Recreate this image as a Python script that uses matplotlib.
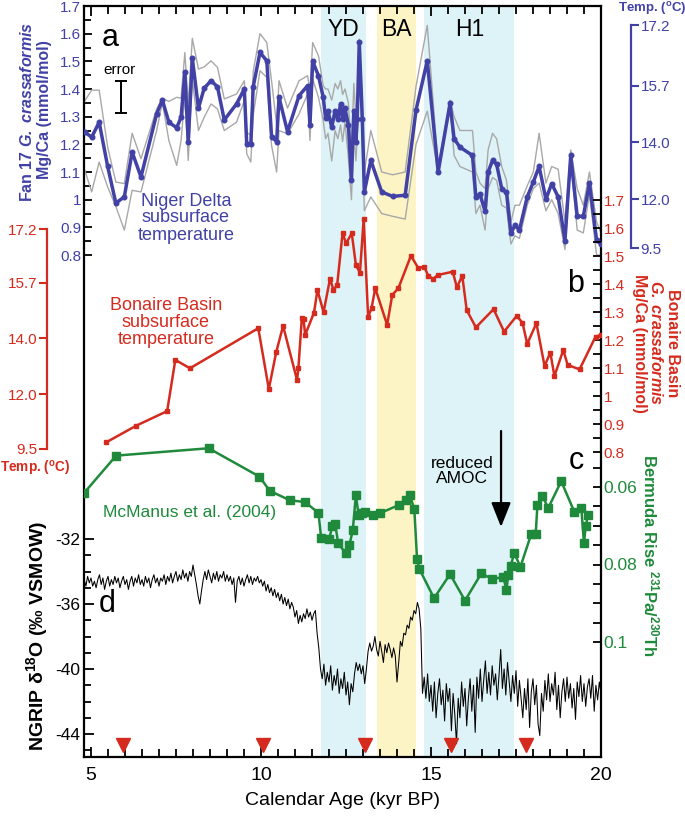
import numpy as np
import matplotlib
matplotlib.use("Agg")
import matplotlib.pyplot as plt
import matplotlib.transforms as mtransforms
from matplotlib.ticker import FixedLocator

plt.rcParams['font.family'] = ['Liberation Sans', 'DejaVu Sans']
plt.rcParams['mathtext.fontset'] = 'custom'
plt.rcParams['mathtext.rm'] = 'Liberation Sans'
plt.rcParams['mathtext.it'] = 'Liberation Sans:italic'
plt.rcParams['mathtext.bf'] = 'Liberation Sans:bold'
plt.rcParams['mathtext.bfit'] = 'Liberation Sans:italic:bold'
plt.rcParams['axes.unicode_minus'] = False

BLUE = '#4141a6'
RED = '#d52b1e'
GREEN = '#1f8a3b'
GREY = '#a8a8a8'
CYAN = '#ddf3f7'
YELLOW = '#fcf4c5'

# ---------------- data ----------------
periods = ['YD', 'BA', 'H1']
period_start = [11.75, 13.40, 14.80]
period_end = [13.10, 14.55, 17.45]
period_color = [CYAN, YELLOW, CYAN]

niger_age = [4.82, 5.02, 5.24, 5.49, 5.73, 5.98, 6.21, 6.47, 6.93, 7.10, 7.29, 7.52, 7.65, 7.76,
             7.86, 7.98, 8.16, 8.33, 8.53, 8.72, 8.92, 9.28, 9.51, 9.58, 9.70, 9.77, 9.97, 10.17,
             10.31, 10.46, 10.53, 10.78, 11.12, 11.37, 11.44, 11.52, 11.69, 11.83, 11.90, 11.97,
             12.08, 12.18, 12.26, 12.34, 12.40, 12.47, 12.57, 12.66, 12.73, 12.79, 12.83, 12.89,
             12.98, 13.04, 13.23, 13.55, 13.87, 14.24, 14.56, 14.89, 15.21, 15.56, 15.68, 15.85,
             16.22, 16.32, 16.44, 16.59, 16.68, 16.81, 16.93, 17.08, 17.22, 17.35, 17.47, 17.60,
             17.83, 18.01, 18.18, 18.38, 18.55, 18.74, 18.94, 19.11, 19.30, 19.48, 19.66, 19.87, 20.0]
niger_mgca = [1.244, 1.226, 1.280, 1.120, 0.988, 1.010, 1.172, 1.082, 1.310, 1.360, 1.280, 1.260,
              1.298, 1.460, 1.208, 1.511, 1.331, 1.403, 1.430, 1.408, 1.288, 1.346, 1.400, 1.200,
              1.200, 1.408, 1.532, 1.502, 1.228, 1.210, 1.370, 1.246, 1.376, 1.412, 1.270, 1.500,
              1.448, 1.370, 1.295, 1.320, 1.262, 1.322, 1.290, 1.346, 1.290, 1.330, 1.270, 1.070,
              1.322, 1.210, 1.290, 1.571, 1.290, 1.028, 1.142, 1.028, 1.012, 1.016, 1.324, 1.502,
              1.100, 1.348, 1.220, 1.190, 1.160, 1.010, 1.020, 0.958, 1.100, 1.142, 1.128, 1.040,
              1.026, 0.878, 0.908, 0.890, 1.010, 1.064, 1.120, 1.002, 1.058, 1.010, 0.852, 1.160,
              0.940, 0.940, 1.060, 0.854, 0.840]
niger_upper = [1.358, 1.396, 1.396, 1.190, 1.064, 1.058, 1.240, 1.148, 1.328, 1.367, 1.355, 1.370,
               1.367, 1.532, 1.346, 1.583, 1.472, 1.480, 1.502, 1.478, 1.364, 1.382, 1.430, 1.244,
               1.232, 1.463, 1.600, 1.568, 1.430, 1.270, 1.430, 1.331, 1.430, 1.448, 1.394, 1.568,
               1.520, 1.412, 1.40, 1.40, 1.36, 1.42, 1.40, 1.43, 1.38, 1.40, 1.35, 1.16, 1.42, 1.30,
               1.38, 1.58, 1.35, 1.10, 1.25, 1.10, 1.09, 1.10, 1.41, 1.63, 1.12, 1.36, 1.30, 1.25,
               1.25, 1.10, 1.06, 1.04, 1.18, 1.24, 1.22, 1.12, 1.07, 0.92, 0.98, 0.98, 1.05, 1.10,
               1.24, 1.06, 1.12, 1.11, 0.92, 1.18, 1.04, 0.98, 1.10, 0.92, 0.88]
niger_lower = [1.106, 1.028, 1.136, 1.046, 0.976, 0.890, 1.034, 1.028, 1.250, 1.352, 1.214, 1.124,
               1.214, 1.376, 1.142, 1.436, 1.250, 1.298, 1.346, 1.328, 1.250, 1.280, 1.358, 1.166,
               1.136, 1.304, 1.466, 1.442, 1.196, 1.100, 1.250, 1.238, 1.310, 1.382, 1.214, 1.436,
               1.370, 1.286, 1.22, 1.24, 1.14, 1.25, 1.22, 1.27, 1.21, 1.28, 1.15, 1.00, 1.25, 1.14,
               1.22, 1.52, 1.20, 0.96, 1.01, 0.95, 0.94, 0.93, 1.20, 1.32, 1.10, 1.34, 1.16, 1.12,
               1.10, 0.95, 0.98, 0.89, 1.04, 1.08, 1.07, 0.98, 0.97, 0.84, 0.87, 0.86, 0.98, 1.04,
               1.06, 0.96, 1.00, 0.95, 0.82, 1.14, 0.89, 0.88, 1.02, 0.80, 0.80]

bonaire_age = [5.44, 6.33, 7.24, 7.48, 7.91, 9.92, 10.23, 10.45, 10.65, 11.06, 11.10, 11.20, 11.25,
               11.30, 11.56, 11.66, 11.84, 12.03, 12.13, 12.24, 12.40, 12.50, 12.67, 12.79, 12.91,
               13.02, 13.15, 13.25, 13.36, 13.71, 13.86, 14.04, 14.41, 14.63, 14.80, 14.92, 15.06,
               15.20, 15.64, 15.76, 15.92, 16.05, 16.32, 16.84, 17.15, 17.52, 17.69, 17.83, 18.10,
               18.34, 18.51, 18.63, 18.89, 19.02, 19.37, 19.84, 20.00]
bonaire_mgca = [0.834, 0.894, 0.946, 1.129, 1.099, 1.242, 1.025, 1.158, 1.250, 1.057, 1.099, 1.277,
                1.275, 1.218, 1.298, 1.379, 1.299, 1.419, 1.379, 1.396, 1.583, 1.545, 1.581, 1.468,
                1.440, 1.632, 1.283, 1.313, 1.385, 1.254, 1.361, 1.385, 1.501, 1.456, 1.462, 1.429,
                1.418, 1.432, 1.444, 1.388, 1.429, 1.307, 1.245, 1.310, 1.230, 1.286, 1.262, 1.186,
                1.260, 1.107, 1.155, 1.071, 1.164, 1.111, 1.095, 1.212, 1.218]

bermuda_age = [4.80, 5.74, 8.46, 9.95, 10.26, 10.84, 11.30, 11.69, 11.77, 12.00, 12.10, 12.18, 12.27,
               12.49, 12.60, 12.70, 12.79, 12.87, 12.97, 13.05, 13.30, 13.49, 14.07, 14.25, 14.38,
               14.51, 14.59, 14.66, 15.09, 15.56, 16.00, 16.48, 16.79, 17.13, 17.22, 17.27, 17.34,
               17.45, 17.63, 17.95, 18.08, 18.13, 18.27, 18.45, 18.83, 19.22, 19.42, 19.50, 19.55, 19.62]
bermuda_pa_th = [0.0615, 0.0519, 0.0500, 0.0573, 0.0610, 0.0634, 0.0639, 0.0667, 0.0732, 0.0735,
                 0.0701, 0.0695, 0.0745, 0.0771, 0.0750, 0.0711, 0.0621, 0.0672, 0.0667, 0.0665,
                 0.0672, 0.0668, 0.0646, 0.0634, 0.0621, 0.0658, 0.0787, 0.0812, 0.0887, 0.0825,
                 0.0893, 0.0823, 0.0837, 0.0833, 0.0866, 0.0827, 0.0804, 0.0771, 0.0806, 0.0721,
                 0.0721, 0.0646, 0.0623, 0.0654, 0.0585, 0.0665, 0.0654, 0.0745, 0.0700, 0.0672]

# NGRIP d18O read at 0.05 kyr steps starting at 4.80 kyr
ngrip_start, ngrip_step = 4.80, 0.05
ngrip_d18o = [
    -34.5, -34.9, -34.3, -34.7,
    -34.4, -34.9, -34.6, -35.0, -34.5, -34.2, -34.8, -34.4, -35.1, -34.6, -34.3, -34.9, -34.5, -34.8, -34.3, -34.7, -34.4, -35.0, -34.6, -34.3,
    -34.8, -34.5, -35.1, -34.6, -34.3, -34.9, -34.4, -34.7, -34.2, -34.8, -34.5, -34.9, -34.3, -34.7, -34.4, -35.0, -34.5, -34.2, -34.7, -34.4,
    -34.9, -34.4, -34.6, -34.2, -34.8, -34.3, -34.6, -34.1, -34.7, -34.3, -34.0, -34.6, -34.2, -34.5, -33.9, -34.4, -34.1, -34.6, -34.0, -34.3,
    -33.6, -34.2, -34.8, -35.5, -36.0, -35.2, -34.5, -34.0, -34.5, -33.9, -34.3, -34.7, -34.1, -34.5, -34.0, -34.6, -34.2, -34.4, -34.0, -34.6,
    -34.2, -34.6, -34.3, -34.8, -34.4, -35.9, -34.6, -34.3, -34.8, -34.4, -34.9, -34.5, -34.2, -34.7, -34.3, -34.8, -34.4, -34.6, -34.3, -34.7,
    -34.5, -34.9, -34.6, -35.2, -34.8, -35.3, -35.0, -35.5, -35.1, -35.6, -35.3, -35.8, -35.4, -36.0, -35.6, -36.1, -35.7, -36.3, -35.9, -36.2,
    -36.8, -36.4, -37.2, -36.7, -37.1, -36.6, -36.9, -36.3, -36.8, -36.5, -37.0, -36.6, -36.4, -37.8, -38.7, -40.0, -40.6, -39.7, -41.0, -40.2,
    -40.8, -39.8, -41.3, -40.4, -41.0, -40.0, -41.5, -40.6, -41.2, -40.2, -41.6, -40.8, -42.2, -40.9, -41.4, -40.3, -39.6, -40.1, -39.7, -40.3,
    -39.8, -40.9, -40.0, -38.9, -38.4, -38.9, -38.6, -38.0, -38.8, -39.2, -38.3, -38.9, -39.6, -38.5, -39.0, -38.4, -38.8, -39.3, -38.7, -39.2,
    -40.8, -39.6, -38.3, -38.6, -37.8, -37.9, -37.3, -37.5, -36.8, -37.0, -36.4, -36.6, -35.9, -36.3, -37.5, -41.5, -40.5, -41.8, -40.3, -42.0,
    -41.0, -42.6, -40.8, -43.0, -41.5, -40.6, -42.2, -41.3, -43.2, -40.9, -42.0, -41.2, -43.8, -41.5, -42.8, -44.6, -41.8, -43.0, -40.8, -42.3,
    -41.2, -43.5, -41.8, -40.6, -42.6, -41.0, -43.9, -40.5, -41.8, -40.0, -42.0, -40.7, -39.5, -41.5, -40.2, -41.6, -39.8, -41.0, -40.3, -41.9,
    -40.4, -38.8, -41.2, -40.0, -41.6, -39.6, -40.8, -42.0, -40.4, -41.5, -40.1, -42.3, -40.7, -41.8, -43.0, -41.2, -42.5, -40.6, -43.6, -41.4,
    -40.6, -42.2, -41.0, -43.4, -44.1, -41.5, -42.6, -40.7, -41.9, -40.3, -42.0, -40.9, -41.6, -40.2, -42.5, -41.0, -43.0, -41.4, -40.6, -42.0,
    -40.5, -41.8, -40.9, -42.4, -41.2, -43.1, -40.8, -41.7, -40.4, -42.0, -40.9, -42.3, -41.1, -40.6, -41.8, -40.4, -42.6, -41.0, -41.9, -40.8,
    -41.5]
ngrip_age = np.round(ngrip_start + ngrip_step * np.arange(len(ngrip_d18o)), 2)

tiepoint_age = [5.95, 10.05, 13.05, 15.60, 17.80]

niger_temp_labels = ['17.2', '15.7', '14.0', '12.0', '9.5']
niger_temp_mgca = [1.631, 1.411, 1.208, 1.002, 0.825]
bonaire_temp_labels = ['17.2', '15.7', '14.0', '12.0', '9.5']
bonaire_temp_mgca = [1.596, 1.404, 1.207, 1.007, 0.811]

error_age, error_center, error_half = 5.88, 1.371, 0.058

# ---------------- layout ----------------
W, H = 685, 821
fig = plt.figure(figsize=(W / 100, H / 100), dpi=100)
L, R, T, B = 84, 601, 6, 757


def fx(px):
    return px / W


def fy(py):
    return 1 - py / H


def age_at(px):
    return 5 + (px - 91) / 34.0


def blue_at(py):
    return 1.7 - (py - 6) / 276.7


def red_at(py):
    return 1.7 - (py - 200) / 280.0


def green_at(py):
    return 0.06 + (py - 487) / 3875.0


def ngrip_at(py):
    return -32 - (py - 539) / 16.25


ax = fig.add_axes([fx(L), fy(B), (R - L) / W, (B - T) / H])
ax.set_xlim(age_at(L), age_at(R))
ax.set_ylim(blue_at(B), blue_at(T))
for s in ax.spines.values():
    s.set_linewidth(1.6)

for p0, p1, c in zip(period_start, period_end, period_color):
    ax.axvspan(p0, p1, color=c, lw=0, zorder=0)

# panel a
ax.plot(niger_age, niger_upper, color=GREY, lw=1.0, zorder=2)
ax.plot(niger_age, niger_lower, color=GREY, lw=1.0, zorder=2)
ax.plot(niger_age, niger_mgca, color=BLUE, lw=2.5, marker='o', ms=3.3, zorder=3)
ax.errorbar([error_age], [error_center], yerr=[error_half], color='black', lw=1.4,
            capsize=4, capthick=1.4, zorder=4)

blue_ticks = [0.8, 0.9, 1.0, 1.1, 1.2, 1.3, 1.4, 1.5, 1.6, 1.7]
tick_txt = ['0.8', '0.9', '1', '1.1', '1.2', '1.3', '1.4', '1.5', '1.6', '1.7']
ax.set_yticks(blue_ticks, tick_txt)
ax.yaxis.set_minor_locator(FixedLocator([0.85, 0.95, 1.05, 1.15, 1.25, 1.35, 1.45, 1.55, 1.65]))
ax.tick_params(axis='y', which='both', direction='in', left=True, right=False,
               labelcolor=BLUE, labelsize=11, pad=2, width=1.3)
ax.tick_params(axis='y', which='major', length=6)
ax.tick_params(axis='y', which='minor', length=5)

ax.set_xticks([5, 10, 15, 20], ['5', '10', '15', '20'])
ax.xaxis.set_minor_locator(FixedLocator(np.arange(5, 20.01, 0.5)))
ax.tick_params(axis='x', which='both', direction='in', top=True, bottom=True,
               labelsize=14, width=1.3, pad=7)
ax.tick_params(axis='x', which='major', length=7)
ax.tick_params(axis='x', which='minor', length=6)

# panel b
ax_r = ax.twinx()
ax_r.set_ylim(red_at(B), red_at(T))
ax_r.plot(bonaire_age, bonaire_mgca, color=RED, lw=1.8, marker='s', ms=2.8, zorder=3)
ax_r.set_yticks(blue_ticks, tick_txt)
ax_r.yaxis.set_minor_locator(FixedLocator([0.85, 0.95, 1.05, 1.15, 1.25, 1.35, 1.45, 1.55, 1.65]))
ax_r.tick_params(axis='y', which='both', direction='in', labelcolor=RED, labelsize=11,
                 pad=2, width=1.3, length=6)

# panel c
ax_g = ax.twinx()
ax_g.set_ylim(green_at(B), green_at(T))
ax_g.plot(bermuda_age, bermuda_pa_th, color=GREEN, lw=1.8, marker='s', ms=5.5, zorder=3)
ax_g.set_yticks([0.06, 0.08, 0.1], ['0.06', '0.08', '0.1'])
ax_g.yaxis.set_minor_locator(FixedLocator([0.055, 0.065, 0.07, 0.075, 0.085, 0.09, 0.095]))
ax_g.tick_params(axis='y', which='both', direction='in', labelcolor=GREEN, labelsize=12.5,
                 pad=2, width=1.3, length=6)

# panel d
ax_n = ax.twinx()
ax_n.yaxis.tick_left()
ax_n.set_ylim(ngrip_at(B), ngrip_at(T))
ax_n.plot(ngrip_age, ngrip_d18o, color='black', lw=0.75, zorder=3)
ax_n.set_yticks([-44, -40, -36, -32], ['-44', '-40', '-36', '-32'])
ax_n.yaxis.set_minor_locator(FixedLocator([-45, -43, -42, -41, -39, -38, -37, -35, -34, -33]))
ax_n.tick_params(axis='y', which='both', direction='in', labelcolor='black', labelsize=12.5,
                 pad=3, width=1.3)
ax_n.tick_params(axis='y', which='major', length=7)
ax_n.tick_params(axis='y', which='minor', length=5)
trans = mtransforms.blended_transform_factory(ax_n.transData, ax_n.transAxes)
ax_n.plot(tiepoint_age, [0.016] * len(tiepoint_age), 'v', color=RED, ms=10,
          transform=trans, clip_on=False, zorder=6)

for a in (ax_r, ax_g, ax_n):
    for s in a.spines.values():
        s.set_visible(False)

ax_n.annotate('', xy=(17.06, fy(527)), xytext=(17.06, fy(431)),
              xycoords=('data', 'figure fraction'), textcoords=('data', 'figure fraction'),
              arrowprops=dict(arrowstyle='-|>,head_length=0.75,head_width=0.3', lw=1.6,
                              color='black', mutation_scale=20, shrinkA=0, shrinkB=0))

# floating temperature axes
ax_bt = fig.add_axes([fx(600), fy(B), 31 / W, (B - T) / H])
ax_bt.set_ylim(ax.get_ylim())
ax_bt.patch.set_visible(False)
for k in ('left', 'top', 'bottom'):
    ax_bt.spines[k].set_visible(False)
ax_bt.spines['right'].set_color(BLUE)
ax_bt.spines['right'].set_linewidth(1.6)
ax_bt.spines['right'].set_bounds(min(niger_temp_mgca), max(niger_temp_mgca))
ax_bt.set_xticks([])
ax_bt.yaxis.tick_right()
ax_bt.set_yticks(niger_temp_mgca, niger_temp_labels)
ax_bt.tick_params(axis='y', direction='out', color=BLUE, labelcolor=BLUE, labelsize=11,
                  length=6, width=1.5, pad=1)

ax_rt = fig.add_axes([fx(47), fy(B), 31 / W, (B - T) / H])
ax_rt.set_ylim(ax_r.get_ylim())
ax_rt.patch.set_visible(False)
for k in ('right', 'top', 'bottom'):
    ax_rt.spines[k].set_visible(False)
ax_rt.spines['left'].set_color(RED)
ax_rt.spines['left'].set_linewidth(1.6)
ax_rt.spines['left'].set_bounds(min(bonaire_temp_mgca), max(bonaire_temp_mgca))
ax_rt.set_xticks([])
ax_rt.set_yticks(bonaire_temp_mgca, bonaire_temp_labels)
ax_rt.tick_params(axis='y', direction='out', color=RED, labelcolor=RED, labelsize=11,
                  length=6, width=1.5, pad=1)


# ---------------- text ----------------
def ftext(px, py, s, **kw):
    fig.text(fx(px), fy(py), s, ha=kw.pop('ha', 'center'), va=kw.pop('va', 'center'), **kw)


ftext(27, 112, r'Fan 17 $\mathbfit{G.\ crassaformis}$', rotation=90, color=BLUE,
      fontsize=11.5, fontweight='bold')
ftext(45, 110, 'Mg/Ca (mmol/mol)', rotation=90, color=BLUE, fontsize=11.5, fontweight='bold')
ftext(652, 9, r'Temp. ($^{\mathbf{o}}$C)', color=BLUE, fontsize=9.5, fontweight='bold')
ftext(35, 468, r'Temp. ($^{\mathbf{o}}$C)', color=RED, fontsize=9.8, fontweight='bold')
ftext(656, 343, 'Bonaire Basin\n' + r'$\mathbfit{G.\ crassaformis}$' + '\nMg/Ca (mmol/mol)',
      rotation=-90, color=RED, fontsize=11.5, fontweight='bold', linespacing=1.05)
ftext(651, 555, r'Bermuda Rise $^{\mathbf{231}}$Pa/$^{\mathbf{230}}$Th', rotation=-90,
      color=GREEN, fontsize=12, fontweight='bold')
ftext(37, 636, r'NGRIP δ$^{\mathbf{18}}$O (‰ VSMOW)', rotation=90, color='black',
      fontsize=14, fontweight='bold')
ax.set_xlabel('Calendar Age (kyr BP)', fontsize=14, labelpad=6)

ftext(110, 38, 'a', fontsize=22)
ftext(576, 284, 'b', fontsize=22)
ftext(576, 461, 'c', fontsize=22)
ftext(107, 604, 'd', fontsize=22)
ftext(120, 70, 'error', fontsize=11)
for name, p0, p1 in zip(periods, period_start, period_end):
    xm = (p0 + p1) / 2
    ax.text(xm, fy(30), name,
            transform=mtransforms.blended_transform_factory(ax.transData, fig.transFigure),
            ha='center', va='center', fontsize=16.5)
ftext(186, 218, 'Niger Delta\nsubsurface\ntemperature', color=BLUE, fontsize=13, linespacing=1.0)
ftext(166, 322, 'Bonaire Basin\nsubsurface\ntemperature', color=RED, fontsize=13, linespacing=1.0)
ftext(190, 512, 'McManus et al. (2004)', color=GREEN, fontsize=12.5)
ftext(462, 471, 'reduced\nAMOC', color='black', fontsize=12.5, linespacing=1.0)

fig.savefig('out.png', dpi=100)
